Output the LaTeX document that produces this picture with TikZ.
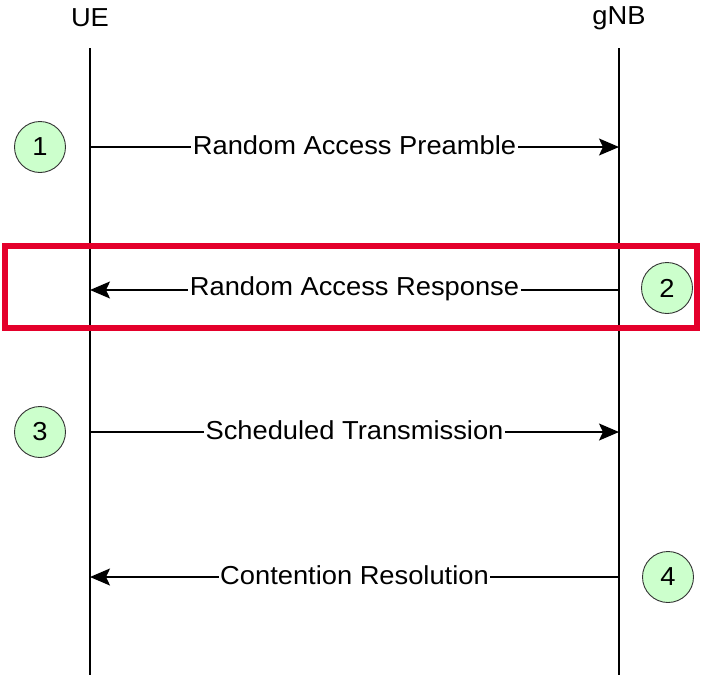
\documentclass[tikz,border=0pt]{standalone}
\usepackage{fontspec}
\setmainfont[FakeStretch=1.05]{Liberation Sans}
\usetikzlibrary{arrows.meta}
\definecolor{stepgreen}{RGB}{204,255,204}
\definecolor{hlred}{RGB}{228,0,43}
\begin{document}
\begin{tikzpicture}[x=1pt,y=-1pt,
  txt/.style={font=\fontsize{26}{30}\selectfont, text=black},
  lifeline/.style={draw=black, line width=1.6pt},
  msg/.style={draw=black, line width=1.6pt, -{Stealth[length=20pt,width=17pt,inset=4pt]}},
  msglabel/.style={txt, fill=white, inner sep=1.5pt, yshift=1.5pt},
  num/.style={circle, draw=black!80, line width=0.9pt, fill=stepgreen, minimum size=51pt, inner sep=0pt, txt},
  hlbox/.style={draw=hlred, line width=6pt}
]
\useasboundingbox (0,0) rectangle (704,675);
\fill[white] (0,0) rectangle (704,675);

\node[txt] (ue) at (90,18) {UE};
\node[txt] (gnb) at (619,18) {gNB};

\coordinate (ueTop) at (90,48);
\coordinate (ueBot) at (90,675);
\coordinate (gnbTop) at (619,48);
\coordinate (gnbBot) at (619,675);
\draw[lifeline] (ueTop) -- (ueBot);
\draw[lifeline] (gnbTop) -- (gnbBot);

\coordinate (u1) at (90,147);  \coordinate (g1) at (619,147);
\coordinate (u2) at (90,290);  \coordinate (g2) at (619,290);
\coordinate (u3) at (90,432);  \coordinate (g3) at (619,432);
\coordinate (u4) at (90,577);  \coordinate (g4) at (619,577);

\draw[msg] (u1) -- node[msglabel] (l1) {Random Access Preamble} (g1);
\draw[msg] (g2) -- node[msglabel] (l2) {Random Access Response} (u2);
\draw[msg] (u3) -- node[msglabel] (l3) {Scheduled Transmission} (g3);
\draw[msg] (g4) -- node[msglabel] (l4) {Contention Resolution} (u4);

\node[num] (n1) at (40,147) {1};
\node[num] (n2) at (667,288) {2};
\node[num] (n3) at (40,432) {3};
\node[num] (n4) at (668,577) {4};

\draw[hlbox] (5,246) rectangle (697,328);
\end{tikzpicture}
\end{document}
